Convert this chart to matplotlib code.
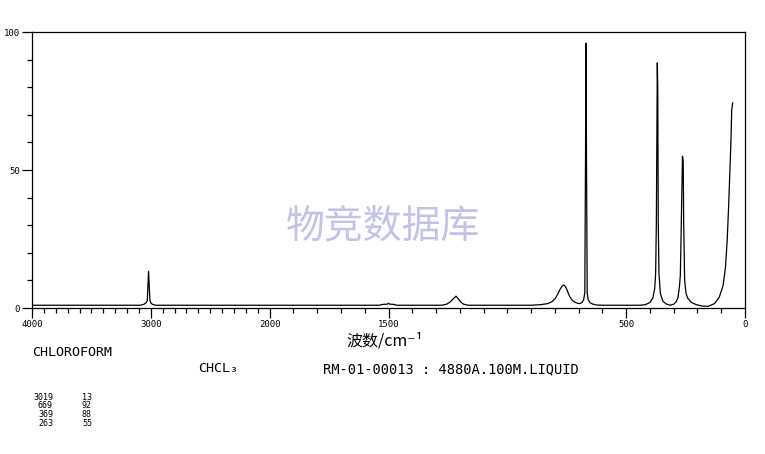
import numpy as np
import matplotlib
matplotlib.use('Agg')
import matplotlib.pyplot as plt
from matplotlib.ticker import FixedLocator, MultipleLocator

# 读图得到的拉曼光谱 (CHCl3)
wavenumber = [4000, 3100, 3090, 3060, 3040, 3030, 3025, 3019, 3013, 3008, 3000, 2985, 2960,
              1540, 1525, 1505, 1500, 1495, 1478, 1465,
              1275, 1255, 1240, 1228, 1216, 1206, 1196, 1185, 1165,
              900, 860, 830, 812, 798, 788, 778, 770, 762, 754, 746, 738, 728, 716, 704, 695,
              686, 679, 674, 671, 669, 667, 664, 660, 652, 640, 625, 600,
              440, 420, 400, 388, 380, 376, 373, 369, 367, 365, 362, 356, 345, 330, 314,
              300, 290, 282, 276, 272, 268, 263, 260, 258, 254, 248, 240, 225, 205, 180, 155,
              128, 108, 92, 82, 75, 69, 64, 59, 56, 52]
intensity = [1.0, 1.0, 1.0, 1.3, 1.9, 2.6, 7.6, 13.3, 7.6, 2.8, 1.8, 1.3, 1.0,
             1.0, 1.3, 1.4, 1.7, 1.4, 1.3, 1.0,
             1.0, 1.4, 2.2, 3.3, 4.3, 3.3, 2.2, 1.4, 1.0,
             1.0, 1.2, 1.6, 2.3, 3.5, 5.0, 6.8, 7.9, 8.3, 7.6, 5.9, 4.2, 2.9, 2.1, 1.7, 1.6,
             2.0, 3.0, 5.5, 56, 96, 56, 5.5, 3.0, 1.9, 1.4, 1.1, 1.0,
             1.0, 1.2, 2.0, 3.6, 7.0, 12.5, 31, 88.8, 78.6, 31, 12.5, 5.2, 2.4, 1.4, 1.0,
             1.4, 2.2, 3.8, 7.6, 12, 30.8, 55, 53, 30.8, 10, 5.2, 3.4, 2.0, 1.2, 0.7, 0.6,
             1.6, 4.0, 8.2, 14.9, 24.5, 36.6, 48.7, 60.8, 71.6, 74.3]

xticks = [4000, 3000, 2000, 1500, 500, 0]
yticks = [0, 50, 100]
peak_pos = ['3019', '669', '369', '263']
peak_int = ['13', '92', '88', '55']


def fwd(x):
    # 2000以上压缩一半
    x = np.asarray(x, dtype=float)
    return np.where(x <= 2000, x, 2000 + (x - 2000) / 2)


def inv(u):
    u = np.asarray(u, dtype=float)
    return np.where(u <= 2000, u, 2000 + (u - 2000) * 2)


mono = 'DejaVu Sans Mono'
cjk = ['Noto Sans CJK SC', 'DejaVu Sans']

fig = plt.figure(figsize=(7.65, 4.54), dpi=100)
ax = fig.add_axes([32/765, 1 - 308/454, (745-32)/765, (308-32)/454])
ax.plot(wavenumber, intensity, color='black', lw=0.9)
ax.set_xscale('function', functions=(fwd, inv))
ax.set_xlim(4000, 0)
ax.set_ylim(0, 100)

ax.xaxis.set_major_locator(FixedLocator(xticks))
ax.xaxis.set_minor_locator(MultipleLocator(100))
ax.yaxis.set_major_locator(FixedLocator(yticks))
ax.yaxis.set_minor_locator(MultipleLocator(10))
ax.set_xticklabels([str(t) for t in xticks], family=mono, fontsize=6.5)
ax.set_yticklabels([str(t) for t in yticks], family=mono, fontsize=6.5)
ax.tick_params(which='major', length=7, width=0.9, direction='out', pad=1.5)
ax.tick_params(which='minor', length=3.5, width=0.9, direction='out')
for s in ax.spines.values():
    s.set_linewidth(0.9)

# 水印
fig.text(383/765, 1 - 227/454, '物竞数据库', family=cjk,
         fontsize=28, color='#c3c3e8', ha='center', va='center')

fig.text(385/765, 1 - 341/454, '波数/cm⁻¹', family=cjk,
         fontsize=11.5, ha='center', va='center')

fig.text(32/765, 1 - 352/454, 'CHLOROFORM', family=mono, fontsize=9.6, va='center')
fig.text(198/765, 1 - 369/454, 'CHCL₃', family=mono, fontsize=9.6, va='center')
fig.text(323/765, 1 - 369/454, 'RM-01-00013 : 4880A.100M.LIQUID', family=mono,
         fontsize=9.9, va='center')

for i in range(len(peak_pos)):
    y = 1 - (397 + i*8.7)/454
    fig.text(53/765, y, peak_pos[i], family=mono, fontsize=6, ha='right', va='center')
    fig.text(92/765, y, peak_int[i], family=mono, fontsize=6, ha='right', va='center')

fig.savefig('out.png', dpi=100)
